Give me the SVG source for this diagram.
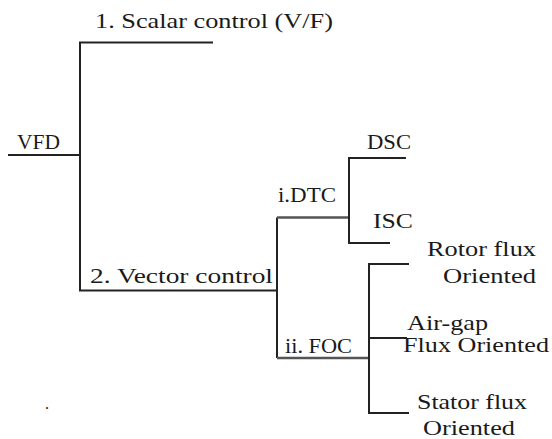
<svg xmlns="http://www.w3.org/2000/svg" width="552" height="439" viewBox="0 0 552 439">
<style>
.ln{stroke:#222;stroke-width:2;fill:none}
.gr{stroke:#555;stroke-width:2.5;fill:none}
</style>
<rect width="552" height="439" fill="#fff"/>
<g id="connectors">
<polyline class="ln" points="8,155 80,155"/>
<polyline class="ln" points="213,42.5 80,42.5 80,290.5 277,290.5"/>
<polyline class="ln" points="277,217.5 277,358"/>
<polyline class="gr" points="277,217.5 349,217.5"/>
<polyline class="gr" points="277,358 370,358"/>
<polyline class="ln" points="406,158 349,158 349,243 390,243"/>
<polyline class="ln" points="409,264 369,264 369,413 409,413"/>
<polyline class="ln" points="369,338 407,338"/>
</g>
<g font-family="Liberation Serif, Times New Roman, serif" font-size="22" fill="#1a1a1a">
<g id="vfd"><text x="17" y="149" textLength="43" lengthAdjust="spacingAndGlyphs">VFD</text></g>
<g id="scalar"><text x="95" y="28" textLength="238" lengthAdjust="spacingAndGlyphs">1. Scalar control (V/F)</text></g>
<g id="vector"><text x="90" y="283" textLength="183" lengthAdjust="spacingAndGlyphs">2. Vector control</text></g>
<g id="dtc"><text x="278" y="202" textLength="58" lengthAdjust="spacingAndGlyphs">i.DTC</text></g>
<g id="dsc"><text x="367" y="149" textLength="44" lengthAdjust="spacingAndGlyphs">DSC</text></g>
<g id="isc"><text x="373" y="228" textLength="40" lengthAdjust="spacingAndGlyphs">ISC</text></g>
<g id="foc"><text x="285" y="353" textLength="67" lengthAdjust="spacingAndGlyphs">ii. FOC</text></g>
<g id="rotor"><text x="427" y="256" textLength="109" lengthAdjust="spacingAndGlyphs">Rotor flux</text><text x="443" y="283" textLength="93" lengthAdjust="spacingAndGlyphs">Oriented</text></g>
<g id="airgap"><text x="407" y="330" textLength="81" lengthAdjust="spacingAndGlyphs">Air-gap</text><text x="403" y="352" textLength="146" lengthAdjust="spacingAndGlyphs">Flux Oriented</text></g>
<g id="stator"><text x="417" y="409" textLength="110" lengthAdjust="spacingAndGlyphs">Stator flux</text><text x="423" y="435" textLength="92" lengthAdjust="spacingAndGlyphs">Oriented</text></g>
<text x="45" y="409" font-size="16">.</text>
</g>
</svg>
